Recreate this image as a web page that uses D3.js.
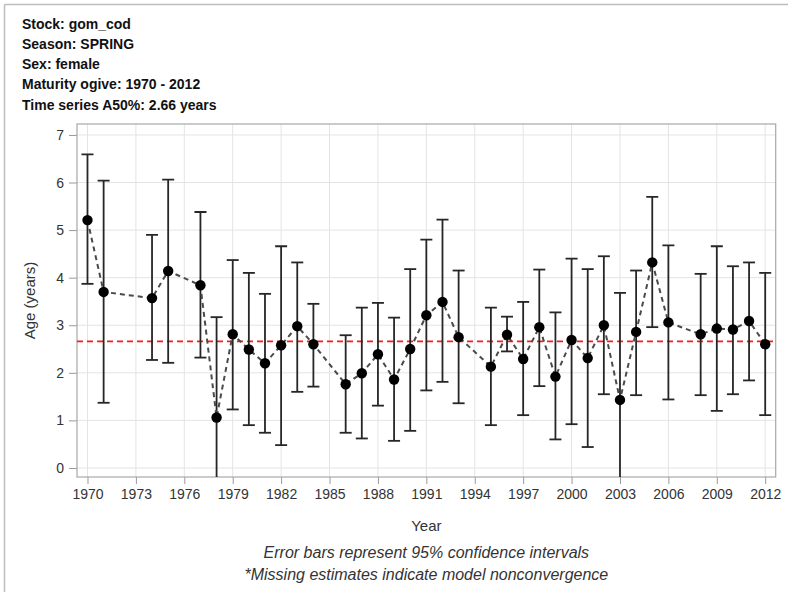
<!DOCTYPE html>
<html>
<head>
<meta charset="utf-8">
<script src="https://cdn.jsdelivr.net/npm/d3@7"></script>
<style>
  html, body { margin: 0; padding: 0; background: #fff; }
  svg { display: block; font-family: "Liberation Sans", Arial, sans-serif; }
</style>
</head>
<body>
<svg id="chart" width="788" height="592"></svg>
<script>
// ---- data ----
const titleLines = ["Stock: gom_cod", "Season: SPRING", "Sex: female", "Maturity ogive: 1970 - 2012", "Time series A50%: 2.66 years"];
const years = [1970, 1971, 1974, 1975, 1977, 1978, 1979, 1980, 1981, 1982, 1983, 1984, 1986, 1987, 1988, 1989, 1990, 1991, 1992, 1993, 1995, 1996, 1997, 1998, 1999, 2000, 2001, 2002, 2003, 2004, 2005, 2006, 2008, 2009, 2010, 2011, 2012];
const a50 = [5.21, 3.70, 3.57, 4.14, 3.84, 1.06, 2.81, 2.49, 2.20, 2.58, 2.98, 2.60, 1.76, 1.99, 2.39, 1.86, 2.50, 3.21, 3.49, 2.75, 2.13, 2.80, 2.29, 2.96, 1.92, 2.69, 2.31, 3.00, 1.43, 2.86, 4.32, 3.06, 2.81, 2.93, 2.91, 3.09, 2.60];
const lower = [3.87, 1.37, 2.27, 2.21, 2.32, -0.60, 1.23, 0.90, 0.74, 0.48, 1.60, 1.71, 0.74, 0.62, 1.31, 0.57, 0.78, 1.63, 1.81, 1.36, 0.90, 2.45, 1.11, 1.72, 0.60, 0.92, 0.44, 1.55, -0.80, 1.53, 2.96, 1.44, 1.53, 1.20, 1.55, 1.84, 1.11];
const upper = [6.59, 6.04, 4.90, 6.06, 5.38, 3.17, 4.37, 4.10, 3.66, 4.66, 4.32, 3.45, 2.79, 3.37, 3.47, 3.16, 4.18, 4.80, 5.22, 4.15, 3.37, 3.18, 3.49, 4.17, 3.27, 4.40, 4.18, 4.45, 3.68, 4.15, 5.70, 4.68, 4.08, 4.66, 4.24, 4.32, 4.10];
const seriesMean = 2.66;
const xTicks = [1970, 1973, 1976, 1979, 1982, 1985, 1988, 1991, 1994, 1997, 2000, 2003, 2006, 2009, 2012];
const yTicks = [0, 1, 2, 3, 4, 5, 6, 7];
const xLabel = "Year";
const yLabel = "Age (years)";
const footnotes = ["Error bars represent 95% confidence intervals", "*Missing estimates indicate model nonconvergence"];

const rows = years.map((y, i) => ({ year: y, v: a50[i], lo: lower[i], hi: upper[i] }));

// ---- layout ----
const svg = d3.select("#chart");
const L = 77, R = 775.7, T = 124, B = 477;
const x = d3.scaleLinear().domain([1969.35, 2012.65]).range([L, R]);
const y = d3.scaleLinear().domain([-0.19, 7.23]).range([B, T]);

// outer border (top & left)
svg.append("line").attr("x1", 4.5).attr("x2", 788).attr("y1", 4.5).attr("y2", 4.5)
  .attr("stroke", "#bdbdbd").attr("stroke-width", 1.5);
svg.append("line").attr("x1", 4.5).attr("x2", 4.5).attr("y1", 4.5).attr("y2", 592)
  .attr("stroke", "#bdbdbd").attr("stroke-width", 1.5);

// title block
svg.append("g").selectAll("text").data(titleLines).join("text")
  .attr("x", 22).attr("y", (d, i) => 28.5 + i * 20.3)
  .attr("font-size", 14).attr("font-weight", "bold").attr("fill", "#111")
  .text(d => d);

// clip
svg.append("defs").append("clipPath").attr("id", "plotclip")
  .append("rect").attr("x", L).attr("y", T).attr("width", R - L).attr("height", B - T);

// gridlines
const grid = svg.append("g");
grid.selectAll("line.gx").data(xTicks).join("line").attr("class", "gx")
  .attr("x1", d => x(d)).attr("x2", d => x(d)).attr("y1", T).attr("y2", B)
  .attr("stroke", "#e4e4e4").attr("stroke-width", 1);
grid.selectAll("line.gy").data(yTicks).join("line").attr("class", "gy")
  .attr("x1", L).attr("x2", R).attr("y1", d => y(d)).attr("y2", d => y(d))
  .attr("stroke", "#e4e4e4").attr("stroke-width", 1);

// axes
const xAxis = svg.append("g").attr("transform", `translate(0,${B})`)
  .call(d3.axisBottom(x).tickValues(xTicks).tickFormat(d3.format("d")).tickSize(7).tickPadding(5));
const yAxis = svg.append("g").attr("transform", `translate(${L},0)`)
  .call(d3.axisLeft(y).tickValues(yTicks).tickFormat(d3.format("d")).tickSize(8).tickPadding(5));
[xAxis, yAxis].forEach(g => {
  g.select(".domain").remove();
  g.selectAll(".tick line").attr("stroke", "#9a9a9a");
  g.selectAll(".tick text").attr("font-size", 14).attr("fill", "#333")
    .attr("font-family", "'Liberation Sans', Arial, sans-serif");
});

// frame
svg.append("rect").attr("x", L).attr("y", T).attr("width", R - L).attr("height", B - T)
  .attr("fill", "none").attr("stroke", "#a8a8a8").attr("stroke-width", 1.2);

const plot = svg.append("g").attr("clip-path", "url(#plotclip)");

// reference line
plot.append("line").attr("x1", L).attr("x2", R).attr("y1", y(seriesMean)).attr("y2", y(seriesMean))
  .attr("stroke", "#ff1a1a").attr("stroke-width", 1.6).attr("stroke-dasharray", "6,4");

// error bars
const cap = 6;
const eb = plot.append("g").attr("stroke", "#262626").attr("stroke-width", 1.8);
eb.selectAll("line.v").data(rows).join("line").attr("class", "v")
  .attr("x1", d => x(d.year)).attr("x2", d => x(d.year))
  .attr("y1", d => y(d.lo)).attr("y2", d => y(d.hi));
eb.selectAll("line.h").data(rows).join("line").attr("class", "h")
  .attr("x1", d => x(d.year) - cap).attr("x2", d => x(d.year) + cap)
  .attr("y1", d => y(d.hi)).attr("y2", d => y(d.hi));
eb.selectAll("line.l").data(rows.filter(d => y(d.lo) < B)).join("line").attr("class", "l")
  .attr("x1", d => x(d.year) - cap).attr("x2", d => x(d.year) + cap)
  .attr("y1", d => y(d.lo)).attr("y2", d => y(d.lo));

// connecting dashed line
plot.append("path").datum(rows)
  .attr("fill", "none").attr("stroke", "#4a4a4a").attr("stroke-width", 2).attr("stroke-dasharray", "5,4")
  .attr("d", d3.line().x(d => x(d.year)).y(d => y(d.v)));

// markers
plot.append("g").selectAll("circle").data(rows).join("circle")
  .attr("cx", d => x(d.year)).attr("cy", d => y(d.v)).attr("r", 5.2)
  .attr("fill", "#000");

// axis labels
svg.append("text").attr("x", (L + R) / 2).attr("y", 531).attr("text-anchor", "middle")
  .attr("font-size", 15).attr("fill", "#333").text(xLabel);
svg.append("text").attr("transform", `translate(35,${(T + B) / 2}) rotate(-90)`).attr("text-anchor", "middle")
  .attr("font-size", 15).attr("fill", "#333").text(yLabel);

// footnotes
svg.append("g").selectAll("text").data(footnotes).join("text")
  .attr("x", (L + R) / 2).attr("y", (d, i) => 558 + i * 21.5).attr("text-anchor", "middle")
  .attr("font-size", 16).attr("font-style", "italic").attr("fill", "#333")
  .text(d => d);
</script>
</body>
</html>
